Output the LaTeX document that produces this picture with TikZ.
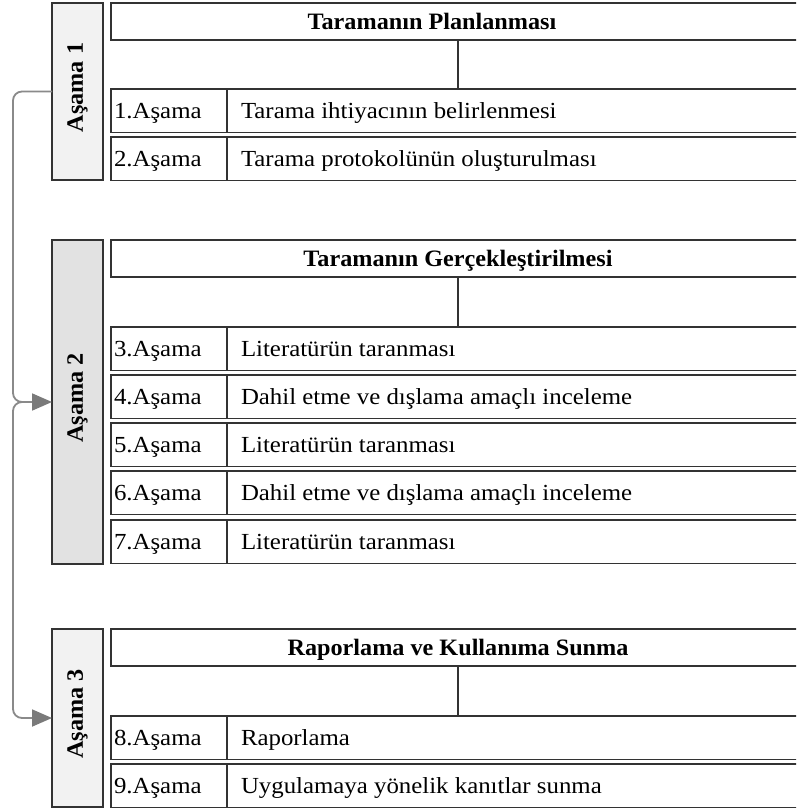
\documentclass[tikz,border=0pt]{standalone}
\usepackage{fontspec}
\setmainfont{Liberation Serif}[FakeStretch=1.08]
\newfontfamily\headfont{Liberation Serif}[FakeStretch=1.03]
\usetikzlibrary{arrows.meta}
\definecolor{edgecol}{HTML}{333333}
\definecolor{conncol}{HTML}{8A8A8A}
\definecolor{tipcol}{HTML}{7A7A7A}
\definecolor{lightfill}{HTML}{F2F2F2}
\definecolor{darkfill}{HTML}{E2E2E2}
\begin{document}
\begin{tikzpicture}[x=1pt,y=-1pt,
  box/.style={draw=edgecol,line width=1.6pt,fill=white,inner sep=0pt,outer sep=0pt,anchor=north west},
  titlebox/.style={box,minimum width=694pt,minimum height=37pt,text height=17pt,text depth=1pt,font=\headfont\bfseries\fontsize{23.5}{26}\selectfont},
  numbox/.style={box,minimum width=116pt,minimum height=43.5pt,text height=16pt,text depth=1pt,font=\fontsize{23}{26}\selectfont},
  descbox/.style={box,minimum width=578pt,minimum height=43.5pt,text height=16pt,text depth=1pt,font=\fontsize{23}{26}\selectfont},
  stagebox/.style={box,minimum width=51pt,font=\headfont\bfseries\fontsize{23.5}{26}\selectfont},
  stem/.style={draw=edgecol,line width=1.6pt},
  connector/.style={draw=conncol,line width=1.8pt,-{Triangle[length=20pt,width=17pt,fill=tipcol,color=tipcol]}}
]
\clip (0,0) rectangle (796,810);
\fill[white] (0,0) rectangle (796,810);
\newcommand{\numtext}[1]{\makebox[110pt][l]{#1}}
\newcommand{\desctext}[1]{\makebox[550pt][l]{#1}}

% Section 1
\node[stagebox,fill=lightfill,minimum height=177pt] (lab1) at (52,3) {\rotatebox{90}{\hspace{8pt}Aşama 1}};
\node[titlebox] (t1) at (111,3) {Taramanın Planlanması\hspace*{52pt}};
\node[numbox] (n1) at (111,89) {\numtext{1.Aşama}};
\node[descbox] (d1) at (227,89) {\desctext{Tarama ihtiyacının belirlenmesi}};
\node[numbox] (n2) at (111,137) {\numtext{2.Aşama}};
\node[descbox] (d2) at (227,137) {\desctext{Tarama protokolünün oluşturulması}};
\draw[stem] (t1.south) -- (t1.south |- n1.north);

% Section 2
\node[stagebox,fill=darkfill,minimum height=324pt] (lab2) at (52,240) {\rotatebox{90}{\hspace{8pt}Aşama 2}};
\node[titlebox] (t2) at (111,240) {Taramanın Gerçekleştirilmesi};
\node[numbox] (n3) at (111,327) {\numtext{3.Aşama}};
\node[descbox] (d3) at (227,327) {\desctext{Literatürün taranması}};
\node[numbox] (n4) at (111,375) {\numtext{4.Aşama}};
\node[descbox] (d4) at (227,375) {\desctext{Dahil etme ve dışlama amaçlı inceleme}};
\node[numbox] (n5) at (111,423) {\numtext{5.Aşama}};
\node[descbox] (d5) at (227,423) {\desctext{Literatürün taranması}};
\node[numbox] (n6) at (111,471) {\numtext{6.Aşama}};
\node[descbox] (d6) at (227,471) {\desctext{Dahil etme ve dışlama amaçlı inceleme}};
\node[numbox] (n7) at (111,520) {\numtext{7.Aşama}};
\node[descbox] (d7) at (227,520) {\desctext{Literatürün taranması}};
\draw[stem] (t2.south) -- (t2.south |- n3.north);

% Section 3
\node[stagebox,fill=lightfill,minimum height=178pt] (lab3) at (52,629) {\rotatebox{90}{\hspace{8pt}Aşama 3}};
\node[titlebox] (t3) at (111,629) {Raporlama ve Kullanıma Sunma};
\node[numbox] (n8) at (111,716) {\numtext{8.Aşama}};
\node[descbox] (d8) at (227,716) {\desctext{Raporlama}};
\node[numbox] (n9) at (111,764) {\numtext{9.Aşama}};
\node[descbox] (d9) at (227,764) {\desctext{Uygulamaya yönelik kanıtlar sunma}};
\draw[stem] (t3.south) -- (t3.south |- n8.north);

% Connectors
\coordinate (rail) at (13,0);
\draw[connector] (lab1.west) [rounded corners=9pt] -| (rail |- lab2.west) [sharp corners] -- (lab2.west);
\draw[connector] ([xshift=-22pt]lab2.west) [rounded corners=9pt] -| (rail |- lab3.west) [sharp corners] -- (lab3.west);
\end{tikzpicture}
\end{document}
